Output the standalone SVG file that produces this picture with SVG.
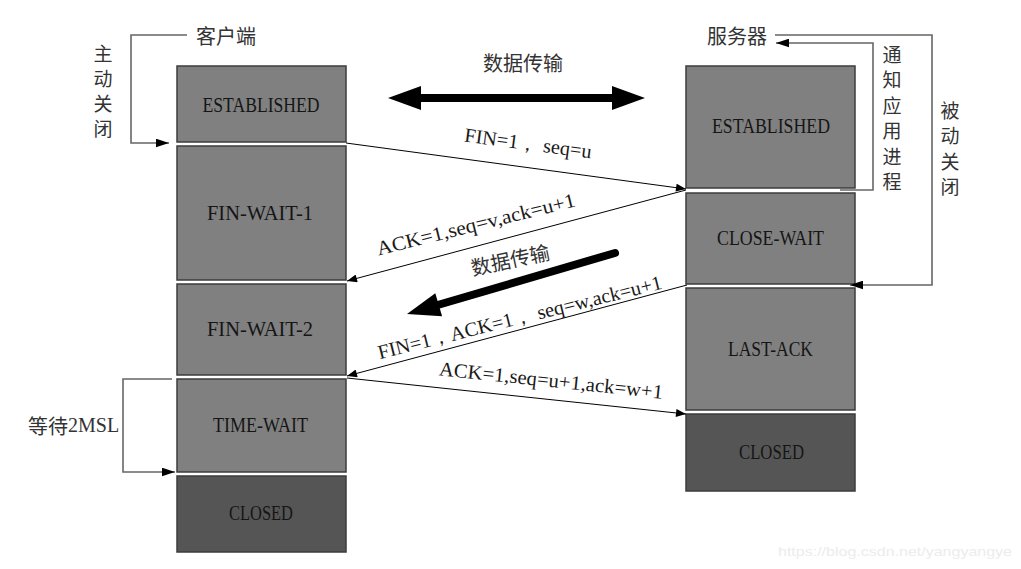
<svg xmlns="http://www.w3.org/2000/svg" width="1021" height="569" viewBox="0 0 1021 569">
<style>
.box{fill:#808080;stroke:#3c3c3c;stroke-width:1.5}
.dark{fill:#555555;stroke:#3c3c3c;stroke-width:1.5}
.lbl{font-family:"Liberation Serif","Noto Serif",serif;font-size:21px;fill:#151515;text-anchor:middle}
.msg{font-family:"Liberation Serif","Noto Serif",serif;font-size:20px;fill:#1a1a1a;text-anchor:middle}
.cjk{font-family:"Noto Sans CJK SC","Noto Sans",sans-serif;font-size:20px;fill:#333333}
.vt{font-family:"Noto Sans CJK SC","Noto Sans",sans-serif;font-size:19px;fill:#333333;text-anchor:middle;dominant-baseline:central}
.conn{fill:none;stroke:#000;stroke-width:1}
.brk{fill:none;stroke:#666666;stroke-width:1.6}
</style>
<defs>
<marker id="ah" viewBox="0 0 10 8" refX="10" refY="4" markerWidth="11" markerHeight="8" markerUnits="userSpaceOnUse" orient="auto">
<path d="M0,0 L10,4 L0,8 Z" fill="#000"/>
</marker>
<marker id="bh" viewBox="0 0 12 8" refX="12" refY="4" markerWidth="13" markerHeight="9" markerUnits="userSpaceOnUse" orient="auto">
<path d="M0,0 L12,4 L0,8 Z" fill="#000"/>
</marker>
</defs>
<rect width="1021" height="569" fill="#ffffff"/>

<g id="client-title">
<text class="cjk" x="226" y="35" text-anchor="middle" dominant-baseline="central">客户端</text>
</g>
<g id="server-title">
<text class="cjk" x="737" y="35" text-anchor="middle" dominant-baseline="central">服务器</text>
</g>

<g id="c-established"><rect class="box" x="177" y="66" width="169" height="76"/><text class="lbl" x="261" y="112" textLength="117" lengthAdjust="spacingAndGlyphs">ESTABLISHED</text></g>
<g id="c-fin-wait-1"><rect class="box" x="177" y="146" width="169" height="134"/><text class="lbl" x="260" y="220" textLength="106" lengthAdjust="spacingAndGlyphs">FIN-WAIT-1</text></g>
<g id="c-fin-wait-2"><rect class="box" x="177" y="284" width="169" height="91"/><text class="lbl" x="260" y="336" textLength="106" lengthAdjust="spacingAndGlyphs">FIN-WAIT-2</text></g>
<g id="c-time-wait"><rect class="box" x="177" y="379" width="169" height="93"/><text class="lbl" x="260.5" y="432" textLength="95" lengthAdjust="spacingAndGlyphs">TIME-WAIT</text></g>
<g id="c-closed"><rect class="dark" x="177" y="476" width="169" height="76"/><text class="lbl" x="261" y="520" textLength="64" lengthAdjust="spacingAndGlyphs">CLOSED</text></g>

<g id="s-established"><rect class="box" x="686" y="66" width="169" height="122"/><text class="lbl" x="771" y="133" textLength="118" lengthAdjust="spacingAndGlyphs">ESTABLISHED</text></g>
<g id="s-close-wait"><rect class="box" x="686" y="193" width="169" height="91"/><text class="lbl" x="770.5" y="245" textLength="107" lengthAdjust="spacingAndGlyphs">CLOSE-WAIT</text></g>
<g id="s-last-ack"><rect class="box" x="686" y="288" width="169" height="122"/><text class="lbl" x="770.5" y="356" textLength="85" lengthAdjust="spacingAndGlyphs">LAST-ACK</text></g>
<g id="s-closed"><rect class="dark" x="686" y="414" width="169" height="77"/><text class="lbl" x="771.5" y="459" textLength="65" lengthAdjust="spacingAndGlyphs">CLOSED</text></g>

<g id="connectors">
<path class="conn" d="M346,143 L686,189" marker-end="url(#ah)"/>
<path class="conn" d="M686,190 L347,281" marker-end="url(#ah)"/>
<path class="conn" d="M687,285 L347,376" marker-end="url(#ah)"/>
<path class="conn" d="M347,378 L686,414" marker-end="url(#ah)"/>
<path class="brk" d="M187,35 L131,35 L131,143 L169,143" marker-end="url(#bh)"/>
<path class="brk" d="M172,379 L123,379 L123,472 L175,472" marker-end="url(#bh)"/>
<path class="brk" d="M840,190 L873,190 L873,43 L776,43" marker-end="url(#bh)"/>
<path class="brk" d="M775,35 L932,35 L932,285 L850,285" marker-end="url(#bh)"/>
<g id="data-both">
<line x1="418" y1="98" x2="615" y2="98" stroke="#000" stroke-width="8"/>
<path d="M388,98 L421,86 L421,110 Z" fill="#000"/>
<path d="M645,98 L612,86 L612,110 Z" fill="#000"/>
</g>
<g id="data-back">
<line x1="615" y1="253" x2="436" y2="305.5" stroke="#000" stroke-width="8" stroke-linecap="round"/>
<path d="M407,314 L435.3,293.2 L442.1,316.2 Z" fill="#000"/>
</g>
</g>

<g id="labels">
<text class="cjk" x="523" y="62" text-anchor="middle" dominant-baseline="central">数据传输</text>
<text class="cjk" x="510" y="259" text-anchor="middle" dominant-baseline="central" transform="rotate(-12 510 259)">数据传输</text>
<text class="msg" x="528" y="150" transform="rotate(7.5 528 144)" textLength="128" lengthAdjust="spacingAndGlyphs">FIN=1， seq=u</text>
<text class="msg" x="476" y="231" transform="rotate(-14 476 225)" textLength="204" lengthAdjust="spacingAndGlyphs">ACK=1,seq=v,ack=u+1</text>
<text class="msg" x="520" y="324" transform="rotate(-14 520 318)" textLength="292" lengthAdjust="spacingAndGlyphs">FIN=1，ACK=1， seq=w,ack=u+1</text>
<text class="msg" x="551" y="387" transform="rotate(6 551 381)" textLength="225" lengthAdjust="spacingAndGlyphs">ACK=1,seq=u+1,ack=w+1</text>
<g id="active-close">
<text class="vt" x="103" y="52">主</text><text class="vt" x="103" y="77">动</text><text class="vt" x="103" y="102">关</text><text class="vt" x="103" y="127">闭</text>
</g>
<g id="notify-app">
<text class="vt" x="892" y="53">通</text><text class="vt" x="892" y="78.5">知</text><text class="vt" x="892" y="104">应</text><text class="vt" x="892" y="129">用</text><text class="vt" x="892" y="155">进</text><text class="vt" x="892" y="180">程</text>
</g>
<g id="passive-close">
<text class="vt" x="950" y="109">被</text><text class="vt" x="950" y="134">动</text><text class="vt" x="950" y="160">关</text><text class="vt" x="950" y="185">闭</text>
</g>
<text class="cjk" x="28" y="425" dominant-baseline="central">等待<tspan font-family="Liberation Serif, serif" font-size="20">2MSL</tspan></text>
<text x="778" y="556" font-family="Liberation Sans, Arial, sans-serif" font-size="13" fill="#ececec" textLength="234" lengthAdjust="spacingAndGlyphs">https://blog.csdn.net/yangyangye</text>
</g>
</svg>
